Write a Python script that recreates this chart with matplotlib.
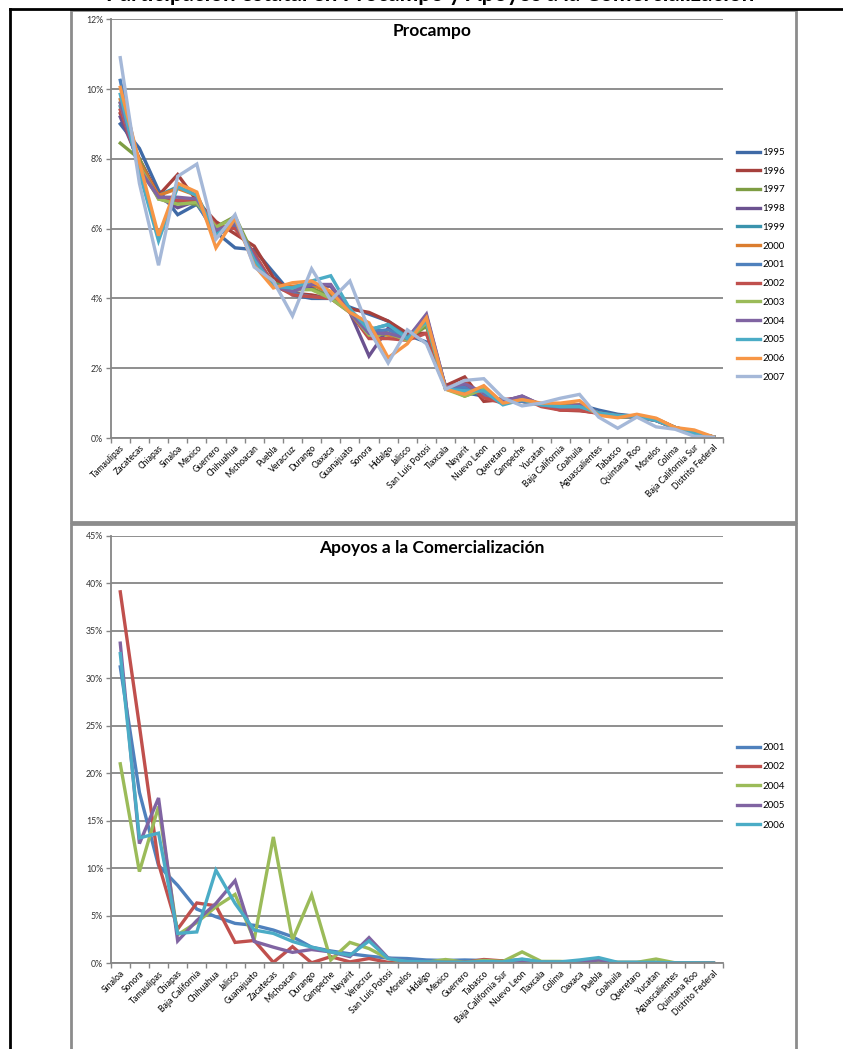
import matplotlib

matplotlib.use("Agg")
from matplotlib import pyplot as plt
from matplotlib.patches import Rectangle
from matplotlib.lines import Line2D
import numpy as np

plt.rcParams["font.family"] = ["Lato", "DejaVu Sans"]

# Procampo: participacion por estado (%)
states_pro = ["Tamaulipas", "Zacatecas", "Chiapas", "Sinaloa", "Mexico", "Guerrero",
              "Chihuahua", "Michoacan", "Puebla", "Veracruz", "Durango", "Oaxaca",
              "Guanajuato", "Sonora", "Hidalgo", "Jalisco", "San Luis Potosi", "Tlaxcala",
              "Nayarit", "Nuevo Leon", "Queretaro", "Campeche", "Yucatan", "Baja California",
              "Coahuila", "Aguascalientes", "Tabasco", "Quintana Roo", "Morelos", "Colima",
              "Baja California Sur", "Distrito Federal"]

pro_1995 = [9.0, 8.3, 7.1, 6.4, 6.7, 5.9, 5.45, 5.4, 4.75, 4.1, 4.0, 4.0, 3.75, 3.55, 3.35, 2.95,
            2.75, 1.45, 1.3, 1.2, 1.1, 1.05, 0.98, 0.9, 0.95, 0.8, 0.68, 0.62, 0.5, 0.3, 0.15, 0.03]
pro_1996 = [9.3, 8.0, 6.95, 7.55, 6.8, 6.2, 5.85, 5.5, 4.6, 4.15, 4.1, 4.0, 3.7, 3.6, 3.35, 3.0,
            3.0, 1.5, 1.75, 1.05, 1.1, 1.15, 0.95, 0.8, 0.78, 0.72, 0.65, 0.62, 0.52, 0.3, 0.15, 0.03]
pro_1997 = [8.45, 8.0, 6.85, 6.75, 6.7, 6.05, 6.35, 5.2, 4.45, 4.25, 4.3, 4.05, 3.7, 2.95, 2.95, 2.85,
            3.2, 1.45, 1.2, 1.4, 1.0, 1.1, 0.95, 0.9, 0.9, 0.72, 0.62, 0.6, 0.55, 0.3, 0.15, 0.03]
pro_1998 = [9.2, 7.9, 6.9, 6.6, 6.8, 5.95, 6.15, 5.2, 4.4, 4.2, 4.35, 4.35, 3.6, 2.35, 3.15, 2.85,
            3.5, 1.45, 1.5, 1.3, 1.05, 1.2, 0.95, 0.88, 0.9, 0.72, 0.62, 0.6, 0.55, 0.3, 0.15, 0.03]
pro_1999 = [9.5, 7.8, 6.95, 7.2, 6.95, 5.9, 6.2, 5.1, 4.4, 4.3, 4.45, 4.1, 3.65, 3.1, 3.25, 2.9,
            3.3, 1.4, 1.35, 1.35, 1.0, 1.1, 0.95, 0.9, 0.92, 0.72, 0.62, 0.6, 0.52, 0.3, 0.15, 0.03]
pro_2000 = [9.7, 7.9, 6.95, 7.15, 6.95, 5.75, 6.25, 5.15, 4.35, 4.35, 4.4, 4.15, 3.65, 3.2, 2.95, 2.85,
            3.4, 1.45, 1.3, 1.45, 1.0, 1.05, 0.95, 0.95, 0.95, 0.72, 0.6, 0.65, 0.55, 0.3, 0.18, 0.03]
pro_2001 = [10.25, 7.7, 6.9, 6.8, 6.75, 5.8, 6.1, 5.25, 4.35, 4.15, 4.05, 4.0, 3.65, 3.05, 3.1, 2.85,
            3.3, 1.45, 1.45, 1.2, 1.05, 1.05, 0.95, 0.85, 0.85, 0.72, 0.6, 0.6, 0.5, 0.28, 0.12, 0.03]
pro_2002 = [9.4, 7.8, 6.9, 6.8, 6.8, 6.1, 6.0, 5.3, 4.4, 4.1, 4.05, 4.0, 3.6, 2.85, 2.85, 2.8,
            3.0, 1.45, 1.6, 1.15, 1.0, 1.15, 0.9, 0.8, 0.8, 0.7, 0.62, 0.6, 0.5, 0.28, 0.12, 0.03]
pro_2003 = [9.6, 7.8, 6.85, 6.7, 6.75, 6.05, 6.3, 5.1, 4.35, 4.25, 4.25, 4.0, 3.6, 2.95, 3.0, 2.8,
            3.3, 1.4, 1.2, 1.4, 1.0, 1.1, 0.95, 0.9, 0.92, 0.7, 0.6, 0.6, 0.52, 0.28, 0.15, 0.03]
pro_2004 = [9.6, 7.7, 6.9, 6.9, 6.85, 5.95, 6.15, 5.2, 4.35, 4.2, 4.4, 4.4, 3.6, 3.0, 3.0, 2.85,
            3.55, 1.45, 1.55, 1.3, 1.05, 1.2, 0.95, 0.88, 0.95, 0.72, 0.62, 0.6, 0.52, 0.28, 0.12, 0.03]
pro_2005 = [9.85, 7.6, 5.65, 7.2, 6.95, 5.8, 6.25, 5.1, 4.35, 4.3, 4.5, 4.65, 3.7, 3.1, 3.25, 2.85,
            3.35, 1.4, 1.35, 1.35, 0.95, 1.1, 0.95, 0.9, 0.9, 0.72, 0.65, 0.62, 0.5, 0.3, 0.12, 0.03]
pro_2006 = [10.05, 7.9, 5.8, 7.3, 7.05, 5.45, 6.3, 4.95, 4.3, 4.45, 4.5, 4.2, 3.6, 3.3, 2.3, 2.7,
            3.45, 1.4, 1.25, 1.5, 1.0, 1.1, 1.0, 1.0, 1.07, 0.65, 0.58, 0.68, 0.57, 0.3, 0.23, 0.03]
pro_2007 = [10.9, 7.3, 4.95, 7.5, 7.85, 5.7, 6.4, 4.9, 4.5, 3.5, 4.85, 3.95, 4.5, 3.1, 2.15, 3.1,
            2.7, 1.4, 1.65, 1.7, 1.15, 0.92, 1.0, 1.14, 1.25, 0.6, 0.28, 0.6, 0.32, 0.25, 0.05, 0.02]

years_pro = ["1995", "1996", "1997", "1998", "1999", "2000", "2001",
             "2002", "2003", "2004", "2005", "2006", "2007"]
series_pro = [pro_1995, pro_1996, pro_1997, pro_1998, pro_1999, pro_2000, pro_2001,
              pro_2002, pro_2003, pro_2004, pro_2005, pro_2006, pro_2007]
colors_pro = ["#3F6AA6", "#A6403C", "#7E9D43", "#6B5290", "#3A93AD", "#DB7D2F", "#4F81BD",
              "#C0504D", "#9BBB59", "#8064A2", "#4BACC6", "#F79646", "#A5B8D8"]

# Apoyos a la Comercializacion (%)
states_com = ["Sinaloa", "Sonora", "Tamaulipas", "Chiapas", "Baja California", "Chihuahua",
              "Jalisco", "Guanajuato", "Zacatecas", "Michoacan", "Durango", "Campeche",
              "Nayarit", "Veracruz", "San Luis Potosi", "Morelos", "Hidalgo", "Mexico",
              "Guerrero", "Tabasco", "Baja California Sur", "Nuevo Leon", "Tlaxcala", "Colima",
              "Oaxaca", "Puebla", "Coahuila", "Queretaro", "Yucatan", "Aguascalientes",
              "Quintana Roo", "Distrito Federal"]

com_2001 = [31.2, 18.0, 10.3, 8.2, 5.7, 4.9, 4.2, 4.0, 3.5, 2.8, 1.7, 1.3, 1.0, 0.75, 0.55, 0.5,
            0.35, 0.3, 0.35, 0.3, 0.25, 0.4, 0.15, 0.1, 0.1, 0.1, 0.1, 0.1, 0.1, 0.05, 0.05, 0.02]
com_2002 = [39.1, 25.0, 10.5, 3.6, 6.35, 6.05, 2.2, 2.4, 0.1, 1.75, 0.05, 0.7, 0.15, 0.5, 0.1, 0.05,
            0.1, 0.1, 0.1, 0.4, 0.25, 0.2, 0.1, 0.1, 0.05, 0.05, 0.05, 0.05, 0.05, 0.02, 0.02, 0.01]
com_2004 = [21.0, 9.65, 16.5, 3.0, 4.3, 5.95, 7.25, 2.5, 13.3, 2.45, 7.2, 0.35, 2.2, 1.55, 0.5, 0.1,
            0.1, 0.4, 0.1, 0.3, 0.2, 1.2, 0.2, 0.2, 0.1, 0.2, 0.1, 0.1, 0.45, 0.05, 0.05, 0.02]
com_2005 = [33.7, 12.6, 17.4, 2.35, 4.5, 6.3, 8.7, 2.3, 1.7, 1.15, 1.45, 1.2, 0.7, 2.7, 0.55, 0.2,
            0.1, 0.1, 0.1, 0.1, 0.05, 0.3, 0.1, 0.1, 0.1, 0.35, 0.05, 0.05, 0.05, 0.02, 0.02, 0.01]
com_2006 = [32.6, 13.2, 13.7, 3.15, 3.3, 9.8, 6.3, 3.5, 3.15, 2.3, 1.7, 1.2, 0.85, 2.35, 0.5, 0.2,
            0.15, 0.1, 0.1, 0.2, 0.15, 0.45, 0.15, 0.15, 0.35, 0.6, 0.1, 0.1, 0.1, 0.05, 0.05, 0.02]

years_com = ["2001", "2002", "2004", "2005", "2006"]
series_com = [com_2001, com_2002, com_2004, com_2005, com_2006]
colors_com = ["#4F81BD", "#C0504D", "#9BBB59", "#8064A2", "#4BACC6"]

W, H = 843, 1049
GRID = "#868686"


def fx(px):
    return px / W


def fy(py):
    return 1 - py / H


def draw_panel(ax, states, series, years, colors, ymax, ystep, title, leg_y, leg_sp):
    n = len(states)
    x = np.arange(n)
    for vals, yr, col in zip(series, years, colors):
        ax.plot(x, vals, color=col, lw=2.4, label=yr, solid_joinstyle="miter")
    ax.set_xlim(-0.5, n - 0.5)
    ax.set_ylim(0, ymax)
    yt = np.arange(0, ymax + 0.01, ystep)
    ax.set_yticks(yt)
    ax.set_yticklabels(["%d%%" % v for v in yt], fontsize=6.3, color="#333333")
    ax.set_xticks(x)
    ax.set_xticklabels(states, rotation=45, ha="right", va="top",
                       rotation_mode="anchor", fontsize=6.2)
    ax.set_xticks(np.arange(-0.5, n), minor=True)
    ax.tick_params(axis="x", which="major", length=0, pad=4)
    ax.tick_params(axis="x", which="minor", length=3.5, width=1, color=GRID)
    ax.tick_params(axis="y", length=3.5, width=1, color=GRID, pad=2)
    ax.grid(axis="y", color=GRID, lw=1.3)
    ax.set_axisbelow(True)
    for s in ["top", "right"]:
        ax.spines[s].set_visible(False)
    for s in ["left", "bottom"]:
        ax.spines[s].set_color(GRID)
        ax.spines[s].set_linewidth(1.3)
    ax.text(0.525, 0.99, title, transform=ax.transAxes, ha="center", va="top",
            fontsize=12.5, fontweight="bold")
    ax.legend(loc="upper left", bbox_to_anchor=(fx(737), fy(leg_y)),
              bbox_transform=fig.transFigure, frameon=False, fontsize=7,
              handlelength=2.4, handletextpad=0.2, labelspacing=leg_sp,
              borderpad=0, borderaxespad=0)


fig = plt.figure(figsize=(W / 100, H / 100), dpi=100)

ax1 = fig.add_axes([fx(110.7), fy(438), fx(723 - 110.7), (438 - 19.3) / H])
draw_panel(ax1, states_pro, series_pro, years_pro, colors_pro, 12, 2, "Procampo", 148, 1.0)

ax2 = fig.add_axes([fx(110.7), fy(963.3), fx(723 - 110.7), (963.3 - 535.8) / H])
draw_panel(ax2, states_com, series_com, years_com, colors_com, 45, 5,
           "Apoyos a la Comercialización", 743, 1.07)

# marcos de los graficos
fig.patches.append(Rectangle((fx(71), fy(522)), fx(796 - 71), (522 - 10) / H,
                             transform=fig.transFigure, fill=False, ec="#8C8C8C", lw=2))
fig.patches.append(Rectangle((fx(71), fy(1060)), fx(796 - 71), (1060 - 524) / H,
                             transform=fig.transFigure, fill=False, ec="#8C8C8C", lw=2))
# borde negro de la tabla
fig.lines.append(Line2D([fx(10), 1], [fy(9), fy(9)], transform=fig.transFigure, color="black", lw=2))
fig.lines.append(Line2D([fx(10), fx(10)], [fy(9), 0], transform=fig.transFigure, color="black", lw=2))

# titulo general (cortado en la parte superior, como en el original)
fig.text(fx(430), fy(1), "Participación estatal en Procampo y Apoyos a la Comercialización",
         ha="center", va="baseline", fontsize=16, fontweight="bold")

fig.savefig("out.png", dpi=100)
